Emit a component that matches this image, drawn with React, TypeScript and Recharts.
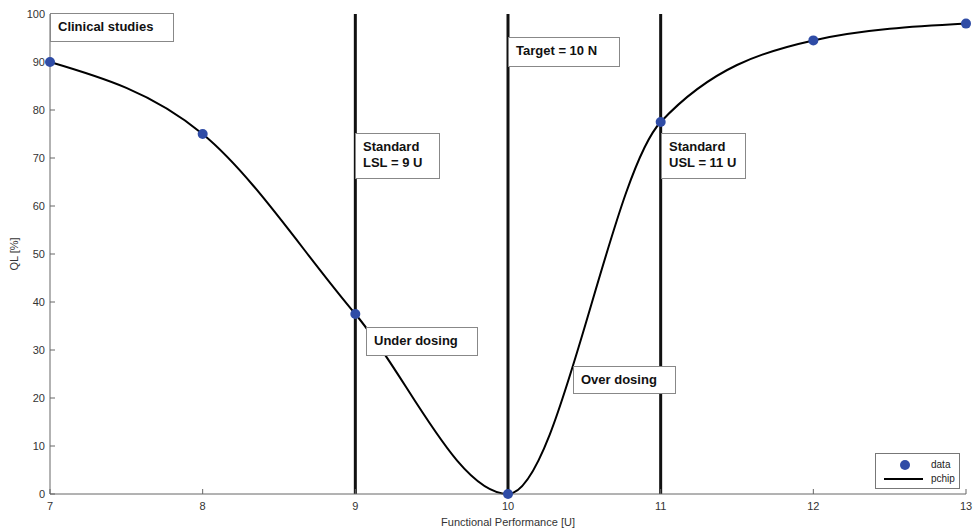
import {
  ComposedChart,
  Line,
  XAxis,
  YAxis,
  ReferenceLine,
} from "recharts"

const performance = [7, 8, 9, 10, 11, 12, 13]
const qualityLoss = [90, 75, 37.5, 0, 77.5, 94.5, 98]
const xTicks = [7, 8, 9, 10, 11, 12, 13]
const yTicks = [0, 10, 20, 30, 40, 50, 60, 70, 80, 90, 100]
const specLimits = [9, 10, 11]

const data = performance.map((x, i) => ({ x, y: qualityLoss[i] }))

const dotBlue = "#2f4ca6"
const font = "'Liberation Sans', Arial, sans-serif"

type Note = { text: string[]; left: number; top: number; width: number; height: number }

const notes: Note[] = [
  { text: ["Clinical studies"], left: 50, top: 13, width: 124, height: 29 },
  { text: ["Standard", "LSL = 9 U"], left: 355, top: 133, width: 85, height: 46 },
  { text: ["Target = 10 N"], left: 508, top: 37, width: 112, height: 30 },
  { text: ["Standard", "USL = 11 U"], left: 661, top: 133, width: 85, height: 46 },
  { text: ["Under dosing"], left: 366, top: 327, width: 112, height: 29 },
  { text: ["Over dosing"], left: 573, top: 366, width: 103, height: 28 },
]

function LegendBox() {
  return (
    <div
      style={{
        position: "absolute",
        left: 875,
        top: 453,
        width: 85,
        height: 36,
        boxSizing: "border-box",
        border: "1px solid #777",
        background: "#fff",
      }}
    >
      <svg width={84} height={35} style={{ position: "absolute", left: 0, top: 0 }}>
        <circle cx={29} cy={11} r={5} fill={dotBlue} />
        <line x1={8} x2={47} y1={25} y2={25} stroke="#000" strokeWidth={2} />
        <text x={55} y={14} fontSize={10} fill="#222" fontFamily={font}>data</text>
        <text x={55} y={28} fontSize={10} fill="#222" fontFamily={font}>pchip</text>
      </svg>
    </div>
  )
}

export default function App() {
  return (
    <div style={{ position: "relative", width: 974, height: 532, background: "#fff" }}>
      <style>{"body{margin:0}"}</style>
      <ComposedChart
        width={974}
        height={532}
        data={data}
        margin={{ top: 14, right: 8, bottom: 8, left: 10 }}
      >
        <XAxis
          dataKey="x"
          type="number"
          domain={[7, 13]}
          ticks={xTicks}
          height={30}
          tickSize={-5}
          tickMargin={13}
          stroke="#666"
          tick={{ fontSize: 11, fill: "#333", fontFamily: font }}
          label={{
            value: "Functional Performance [U]",
            position: "insideBottom",
            offset: -2,
            style: { fontSize: 11, fill: "#333", fontFamily: font },
          }}
        />
        <YAxis
          type="number"
          domain={[0, 100]}
          ticks={yTicks}
          width={40}
          tickSize={-5}
          tickMargin={10}
          stroke="#666"
          tick={{ fontSize: 11, fill: "#333", fontFamily: font }}
          label={{
            value: "QL [%]",
            angle: -90,
            position: "insideLeft",
            offset: 4,
            style: { fontSize: 11, fill: "#333", fontFamily: font, textAnchor: "middle" },
          }}
        />
        {specLimits.map((v) => (
          <ReferenceLine key={v} x={v} stroke="#111" strokeWidth={3} />
        ))}
        <Line
          dataKey="y"
          type="monotoneX"
          stroke="#000"
          strokeWidth={2}
          dot={{ r: 5, fill: dotBlue, stroke: dotBlue, strokeWidth: 0 }}
          isAnimationActive={false}
        />
      </ComposedChart>
      {notes.map((n) => (
        <div
          key={n.text.join(" ")}
          style={{
            position: "absolute",
            left: n.left,
            top: n.top,
            width: n.width,
            height: n.height,
            boxSizing: "border-box",
            border: "1px solid #888",
            background: "#fff",
            fontFamily: font,
            fontWeight: "bold",
            fontSize: 13,
            lineHeight: "16px",
            whiteSpace: "nowrap",
            color: "#111",
            padding: "5px 7px",
          }}
        >
          {n.text.map((t) => (
            <div key={t}>{t}</div>
          ))}
        </div>
      ))}
      <LegendBox />
    </div>
  )
}
